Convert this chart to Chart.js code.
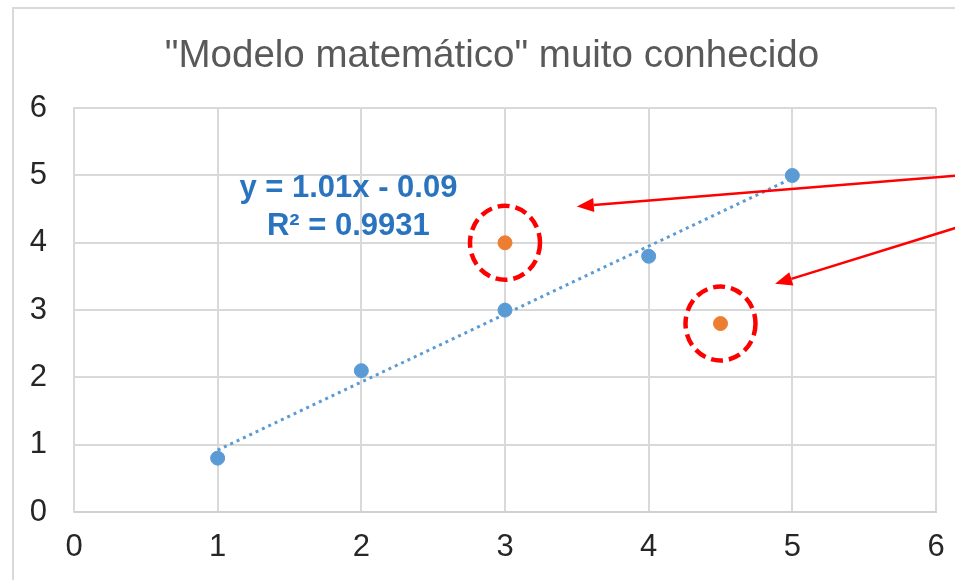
<!DOCTYPE html>
<html>
<head>
<meta charset="utf-8">
<script src="https://cdn.jsdelivr.net/npm/chart.js@4.4.1/dist/chart.umd.min.js"></script>
<style>
  html, body { margin: 0; padding: 0; background: #fff; overflow: hidden; }
  #wrap { position: relative; width: 955px; height: 580px; }
  #frame { position: absolute; left: 12px; top: 7px; width: 1000px; height: 1000px; border: 2px solid #d9d9d9; }
  canvas { position: absolute; left: 0; top: 0; }
</style>
</head>
<body>
<div id="wrap">
  <div id="frame"></div>
  <canvas id="grafico" width="955" height="580"></canvas>
</div>
<script>
// ==========================================
// DATOS
// ==========================================
const tituloGrafico = '"Modelo matemático" muito conhecido';
const serieAzulX = [1, 2, 3, 4, 5];
const serieAzulY = [0.8, 2.1, 3.0, 3.8, 5.0];
const serieLaranjaX = [3, 4.5];
const serieLaranjaY = [4.0, 2.8];
// linha de tendência (extremos)
const tendenciaX = [1, 5];
const tendenciaY = [0.92, 4.96];
const textoEquacao = ['y = 1.01x - 0.09', 'R² = 0.9931'];
const ticksEixo = [0, 1, 2, 3, 4, 5, 6];

// anotações (setas) em coordenadas de dados
const setasDe = [{ x: 6.15, y: 5.0 }, { x: 6.15, y: 4.23 }];
const setasPara = [{ x: 3.5, y: 4.54 }, { x: 4.88, y: 3.39 }];
const ancoraEquacao = { x: 1.91, y: 4.52 };

const juntar = (xs, ys) => xs.map((x, i) => ({ x: x, y: ys[i] }));

// ==========================================
// PLUGIN: equação, círculos e setas
// ==========================================
const anotacoes = {
    id: 'anotacoes',
    afterLayout(chart) {
        // o título no original fica um pouco à direita do centro
        if (chart.titleBlock) chart.titleBlock.left += 48;
    },
    afterDatasetsDraw(chart) {
        const ctx = chart.ctx;
        const sx = chart.scales.x, sy = chart.scales.y;

        // texto da equação
        ctx.save();
        ctx.fillStyle = '#2a74bf';
        ctx.font = 'bold 31px "Liberation Sans", Arial, sans-serif';
        ctx.textAlign = 'center';
        ctx.textBaseline = 'middle';
        const cx = sx.getPixelForValue(ancoraEquacao.x);
        const cy = sy.getPixelForValue(ancoraEquacao.y);
        ctx.fillText(textoEquacao[0], cx, cy - 19);
        ctx.fillText(textoEquacao[1], cx, cy + 19);
        ctx.restore();

        // círculos tracejados nos pontos laranja
        ctx.save();
        ctx.strokeStyle = '#ff0000';
        ctx.lineWidth = 4.5;
        ctx.setLineDash([12, 6]);
        serieLaranjaX.forEach((x, i) => {
            const px = sx.getPixelForValue(x);
            const py = sy.getPixelForValue(serieLaranjaY[i]);
            ctx.beginPath();
            ctx.ellipse(px, py, 35, 37, 0, 0, Math.PI * 2);
            ctx.stroke();
        });
        ctx.restore();

        // setas
        ctx.save();
        ctx.strokeStyle = '#ff0000';
        ctx.fillStyle = '#ff0000';
        ctx.lineWidth = 2.5;
        setasDe.forEach((de, i) => {
            const x0 = sx.getPixelForValue(de.x), y0 = sy.getPixelForValue(de.y);
            const x1 = sx.getPixelForValue(setasPara[i].x), y1 = sy.getPixelForValue(setasPara[i].y);
            const ang = Math.atan2(y1 - y0, x1 - x0);
            const comp = 17, larg = 7;
            const bx = x1 - comp * Math.cos(ang), by = y1 - comp * Math.sin(ang);
            ctx.beginPath();
            ctx.moveTo(x0, y0);
            ctx.lineTo(bx, by);
            ctx.stroke();
            ctx.beginPath();
            ctx.moveTo(x1, y1);
            ctx.lineTo(bx + larg * Math.sin(ang), by - larg * Math.cos(ang));
            ctx.lineTo(bx - larg * Math.sin(ang), by + larg * Math.cos(ang));
            ctx.closePath();
            ctx.fill();
        });
        ctx.restore();
    }
};

// ==========================================
// GRÁFICO
// ==========================================
const fonteTicks = { family: '"Liberation Sans", Arial, sans-serif', size: 31 };

new Chart(document.getElementById('grafico').getContext('2d'), {
    type: 'scatter',
    data: {
        datasets: [
            {
                label: 'tendencia',
                type: 'line',
                data: juntar(tendenciaX, tendenciaY),
                borderColor: '#5b9bd5',
                borderWidth: 3,
                borderDash: [3, 4],
                pointRadius: 0,
                fill: false,
                order: 3
            },
            {
                label: 'azul',
                data: juntar(serieAzulX, serieAzulY),
                backgroundColor: '#5b9bd5',
                borderColor: '#5b9bd5',
                pointRadius: 7,
                order: 1
            },
            {
                label: 'laranja',
                data: juntar(serieLaranjaX, serieLaranjaY),
                backgroundColor: '#ed7d31',
                borderColor: '#ed7d31',
                pointRadius: 7,
                order: 2
            }
        ]
    },
    options: {
        responsive: false,
        animation: false,
        events: [],
        layout: { padding: { left: 0, right: 19, top: 0, bottom: 0 } },
        plugins: {
            legend: { display: false },
            tooltip: { enabled: false },
            title: {
                display: true,
                text: tituloGrafico,
                color: '#595959',
                font: { family: '"Liberation Sans", Arial, sans-serif', size: 38.5, weight: 'normal', lineHeight: 1.2 },
                padding: { top: 33, bottom: 29 }
            }
        },
        scales: {
            x: {
                type: 'linear',
                min: 0, max: 6,
                afterBuildTicks: s => { s.ticks = ticksEixo.map(v => ({ value: v })); },
                afterFit: s => { s.height = 68; s.paddingLeft = 0; s.paddingRight = 0; },
                grid: { color: '#d9d9d9', lineWidth: 2, drawTicks: false },
                border: { color: '#d0d0d0', width: 2 },
                ticks: { color: '#262626', font: fonteTicks, padding: 17, maxRotation: 0 }
            },
            y: {
                type: 'linear',
                min: 0, max: 6,
                afterBuildTicks: s => { s.ticks = ticksEixo.map(v => ({ value: v })); },
                afterFit: s => { s.width = 74; s.paddingTop = 0; s.paddingBottom = 0; },
                grid: { color: '#d9d9d9', lineWidth: 2, drawTicks: false },
                border: { color: '#d9d9d9', width: 2 },
                ticks: { color: '#262626', font: fonteTicks, padding: 27 }
            }
        }
    },
    plugins: [anotacoes]
});
</script>
</body>
</html>
